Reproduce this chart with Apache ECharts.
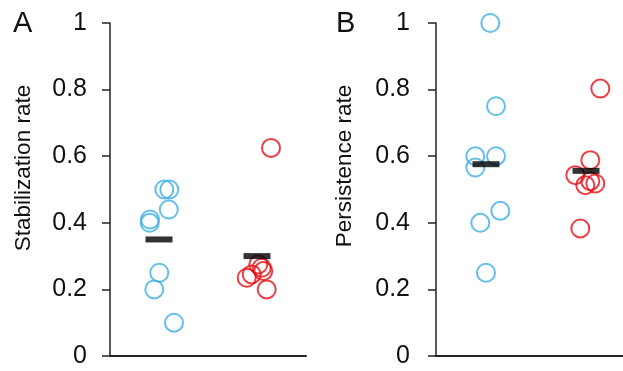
<!DOCTYPE html>
<html>
<head>
<meta charset="utf-8">
<script src="https://cdn.jsdelivr.net/npm/echarts@6/dist/echarts.min.js"></script>
<style>html,body{margin:0;padding:0;background:#fff}#c{width:623px;height:371px}</style>
</head>
<body>
<div id="c"></div>
<script>
// Panel A: Stabilization rate
const aBlueX = [1.054, 1.105, 1.10, 0.908, 0.905, 1.003, 0.952, 1.153];
const aBlueY = [0.50, 0.50, 0.44, 0.41, 0.40, 0.25, 0.20, 0.10];
const aRedX = [2.143, 1.895, 1.946, 2.013, 2.048, 2.064, 2.099];
const aRedY = [0.625, 0.235, 0.245, 0.275, 0.265, 0.255, 0.20];
const aMeans = [0.35, 0.30];
// Panel B: Persistence rate
const bBlueX = [1.043, 1.10, 0.893, 1.10, 0.893, 0.943, 1.143, 1.0];
const bBlueY = [1.0, 0.75, 0.60, 0.60, 0.566, 0.40, 0.436, 0.25];
const bRedX = [2.143, 2.043, 1.893, 1.993, 2.093, 2.043, 1.943];
const bRedY = [0.803, 0.588, 0.543, 0.513, 0.518, 0.525, 0.383];
const bMeans = [0.576, 0.556];
const groupX = [1, 2];

const BLUE = '#3DAEE3', RED = '#E50F16', FONT = 'Liberation Sans';
const zip = (xs, ys) => xs.map((x, i) => [x, ys[i]]);
const circles = (xs, ys, col, idx) => ({
  type: 'scatter', xAxisIndex: idx, yAxisIndex: idx, data: zip(xs, ys),
  symbol: 'circle', symbolSize: 18, silent: true, z: 2,
  itemStyle: { color: 'rgba(255,255,255,0)', borderColor: col, borderWidth: 2 }
});
const meanBars = (ys, idx) => ({
  type: 'scatter', xAxisIndex: idx, yAxisIndex: idx, data: zip(groupX, ys),
  symbol: 'rect', symbolSize: [27, 6], silent: true, z: 5,
  itemStyle: { color: '#000' }
});
const yAx = (idx, margin) => ({
  type: 'value', gridIndex: idx, min: 0, max: 1, interval: 0.2,
  axisLine: { show: true, lineStyle: { color: '#222', width: 1.5 } },
  axisTick: { show: true, length: 8, lineStyle: { color: '#222', width: 1.5 } },
  splitLine: { show: false },
  axisLabel: { margin: margin, fontFamily: FONT, fontSize: 25, color: '#111',
    formatter: v => String(+v.toFixed(1)) }
});
const xAx = (idx, max) => ({
  type: 'value', gridIndex: idx, min: 0.5, max: max,
  axisLine: { show: true, onZero: false, lineStyle: { color: '#222', width: 2 } },
  axisTick: { show: false }, axisLabel: { show: false }, splitLine: { show: false }
});

const chart = echarts.init(document.getElementById('c'), null, { renderer: 'canvas' });
chart.setOption({
  animation: false,
  backgroundColor: '#fff',
  grid: [
    { left: 110, right: 317, top: 23, bottom: 15 },
    { left: 436, right: 0, top: 23, bottom: 15 }
  ],
  xAxis: [xAx(0, 2.5), xAx(1, 2.37)],
  yAxis: [yAx(0, 23), yAx(1, 26)],
  graphic: [
    { type: 'text', x: 13, y: 9, style: { text: 'A', font: '29px ' + FONT, fill: '#111' } },
    { type: 'text', x: 336, y: 9, style: { text: 'B', font: '29px ' + FONT, fill: '#111' } },
    { type: 'text', x: 24, y: 168, rotation: Math.PI / 2,
      style: { text: 'Stabilization rate', font: '22.5px ' + FONT, fill: '#111', align: 'center', verticalAlign: 'middle' } },
    { type: 'text', x: 345, y: 166, rotation: Math.PI / 2,
      style: { text: 'Persistence rate', font: '22.5px ' + FONT, fill: '#111', align: 'center', verticalAlign: 'middle' } }
  ],
  series: [
    circles(aBlueX, aBlueY, BLUE, 0),
    circles(aRedX, aRedY, RED, 0),
    meanBars(aMeans, 0),
    circles(bBlueX, bBlueY, BLUE, 1),
    circles(bRedX, bRedY, RED, 1),
    meanBars(bMeans, 1)
  ]
});
</script>
</body>
</html>
